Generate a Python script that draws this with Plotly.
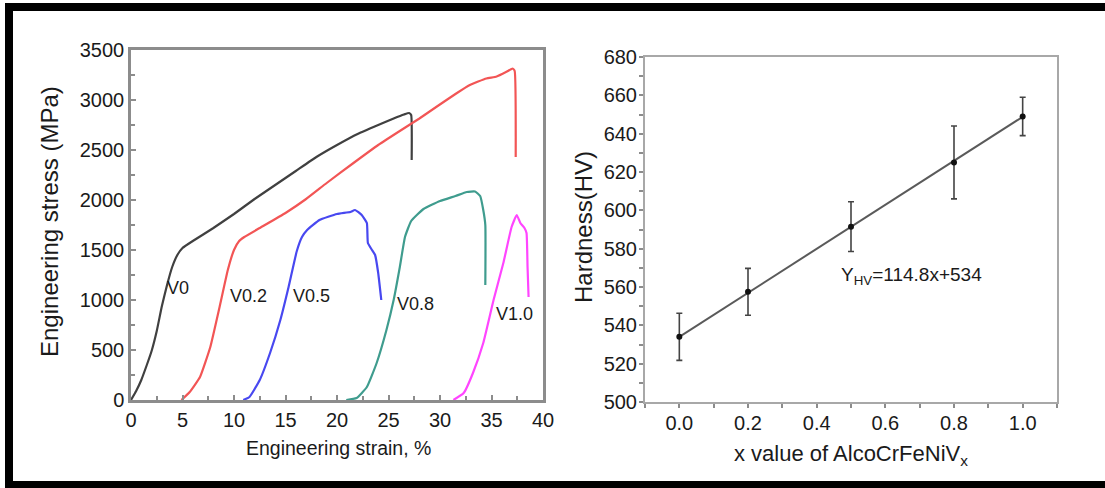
import plotly.graph_objects as go

# ---------------- Left panel: stress-strain curves ----------------
v0_strain = [0, 0.5, 1.0, 1.5, 2.0, 2.5, 3.0, 3.5, 4.0, 4.5, 5.0, 6.0, 8.0, 10.0, 12.0, 14.0, 16.0, 18.0, 20.0, 22.0, 24.0, 25.5, 26.5, 27.0, 27.2, 27.25]
v0_stress = [0, 90, 200, 340, 490, 690, 940, 1150, 1330, 1450, 1520, 1590, 1720, 1860, 2010, 2150, 2290, 2430, 2550, 2660, 2750, 2815, 2855, 2870, 2850, 2400]

v02_strain = [4.9, 5.7, 6.7, 7.7, 8.6, 9.4, 10.0, 10.5, 11.0, 12.5, 15.0, 17.0, 19.0, 21.6, 24.0, 26.4, 28.0, 29.7, 31.5, 32.9, 34.5, 35.5, 36.5, 37.05, 37.25, 37.35]
v02_stress = [0, 80, 230, 530, 930, 1300, 1500, 1590, 1630, 1720, 1870, 2010, 2170, 2370, 2550, 2710, 2815, 2935, 3060, 3150, 3215, 3235, 3285, 3315, 3290, 2430]

v05_strain = [10.9, 11.5, 12.5, 13.5, 14.5, 15.3, 16.1, 16.6, 17.1, 18.3, 20.0, 21.3, 21.75, 22.4, 22.9, 23.0, 23.4, 23.7, 24.0, 24.3]
v05_stress = [0, 30, 200, 470, 800, 1130, 1490, 1630, 1700, 1800, 1860, 1880, 1900, 1850, 1770, 1570, 1500, 1450, 1270, 1000]

v08_strain = [20.9, 21.9, 22.9, 23.85, 24.8, 25.5, 26.1, 26.6, 27.2, 28.4, 30.0, 31.5, 32.6, 33.4, 33.9, 34.2, 34.4, 34.4]
v08_stress = [0, 20, 130, 370, 700, 1000, 1330, 1630, 1790, 1910, 1990, 2040, 2080, 2085, 2040, 1900, 1750, 1150]

v10_strain = [31.3, 32.3, 33.2, 34.2, 35.2, 36.15, 36.95, 37.45, 37.8, 38.2, 38.4, 38.5, 38.6]
v10_stress = [0, 70, 270, 570, 1000, 1370, 1730, 1850, 1770, 1720, 1670, 1330, 1030]

curve_names = ["V0", "V0.2", "V0.5", "V0.8", "V1.0"]
curve_colors = ["#404040", "#f25555", "#4848f0", "#3f9c8e", "#ff45ff"]
label_x = [4.6, 11.4, 17.5, 27.6, 37.2]
label_y = [1117, 1040, 1040, 957, 857]

strain_ticks = [0, 5, 10, 15, 20, 25, 30, 35, 40]
stress_ticks = [0, 500, 1000, 1500, 2000, 2500, 3000, 3500]

# ---------------- Right panel: hardness ----------------
x_values = [0.0, 0.2, 0.5, 0.8, 1.0]
hardness = [534, 557.5, 591.5, 625, 649]
hardness_err = [12.3, 12.2, 13, 19, 10]
fit_slope = 114.8
fit_intercept = 534
fit_x = [0.0, 1.0]
hardness_ticks = [500, 520, 540, 560, 580, 600, 620, 640, 660, 680]

W, H = 1105, 488
FONT = "Arial, Liberation Sans, sans-serif"
TXT = "#1a1a1a"

fig = go.Figure()

all_x = [v0_strain, v02_strain, v05_strain, v08_strain, v10_strain]
all_y = [v0_stress, v02_stress, v05_stress, v08_stress, v10_stress]
for name, xs, ys, c in zip(curve_names, all_x, all_y, curve_colors):
    fig.add_trace(go.Scatter(x=xs, y=ys, mode="lines", name=name,
                             line=dict(color=c, width=2.2, shape="spline", smoothing=0.4),
                             xaxis="x", yaxis="y"))

fit_y = [fit_slope * v + fit_intercept for v in fit_x]
fig.add_trace(go.Scatter(x=fit_x, y=fit_y, mode="lines", line=dict(color="#5a5a5a", width=2),
                         xaxis="x2", yaxis="y2", name="fit"))
fig.add_trace(go.Scatter(x=x_values, y=hardness, mode="markers",
                         marker=dict(color="#111111", size=6),
                         error_y=dict(type="data", array=hardness_err, color="#444444",
                                      thickness=1.6, width=3),
                         xaxis="x2", yaxis="y2", name="Hardness"))

frame_l = dict(showline=True, mirror=True, linecolor="#8c8c8c", linewidth=2.5,
               showgrid=False, zeroline=False, ticks="inside", ticklen=5,
               tickcolor="#8c8c8c", tickwidth=1.5,
               tickfont=dict(family=FONT, size=20, color=TXT))
frame_r = dict(showline=True, mirror=True, linecolor="#a8a8a8", linewidth=2,
               showgrid=False, zeroline=False, ticks="outside", ticklen=4,
               tickcolor="#8c8c8c", tickwidth=1.5,
               tickfont=dict(family=FONT, size=20, color=TXT))

fig.update_layout(
    width=W, height=H, template="none", showlegend=False,
    margin=dict(l=0, r=0, t=0, b=0),
    paper_bgcolor="white", plot_bgcolor="white",
    font=dict(family=FONT, color=TXT),
    xaxis=dict(domain=[131 / W, 543 / W], range=[0, 40], anchor="y",
               tickvals=strain_ticks, ticklabelstandoff=0,
               minor=dict(dtick=2.5, tick0=0, ticks="inside", ticklen=4, tickcolor="#8c8c8c"),
               **frame_l),
    yaxis=dict(domain=[1 - 400 / H, 1 - 50 / H], range=[0, 3500], anchor="x",
               tickvals=stress_ticks,
               minor=dict(dtick=250, tick0=0, ticks="inside", ticklen=4, tickcolor="#8c8c8c"),
               **frame_l),
    xaxis2=dict(domain=[645 / W, 1057 / W], range=[-0.1, 1.1], anchor="y2",
                tick0=0, dtick=0.2, tickformat=".1f", ticklabelstandoff=-2,
                minor=dict(dtick=0.1, tick0=0, ticks="outside", ticklen=4, tickcolor="#8c8c8c"),
                **frame_r),
    yaxis2=dict(domain=[1 - 402 / H, 1 - 57 / H], range=[500, 680], anchor="x2",
                tickvals=hardness_ticks, ticklabelstandoff=-2,
                minor=dict(dtick=10, tick0=500, ticks="outside", ticklen=4, tickcolor="#8c8c8c"),
                **frame_r),
)

ann = []
for name, lx, ly in zip(curve_names, label_x, label_y):
    ann.append(dict(x=lx, y=ly, xref="x", yref="y", text=name, showarrow=False,
                    font=dict(family=FONT, size=18, color=TXT), xanchor="center", yanchor="middle"))
ann.append(dict(x=0.466, y=566, xref="x2", yref="y2", text="Y<sub>HV</sub>=114.8x+534",
                showarrow=False, font=dict(family=FONT, size=19, color=TXT),
                xanchor="left", yanchor="middle"))
ann.append(dict(x=49 / W, y=1 - 222 / H, xref="paper", yref="paper", text="Engineering stress (MPa)",
                textangle=-90, showarrow=False, xanchor="center", yanchor="middle",
                font=dict(family=FONT, size=24, color=TXT)))
ann.append(dict(x=338 / W, y=1 - 448 / H, xref="paper", yref="paper", text="Engineering strain, %",
                showarrow=False, xanchor="center", yanchor="middle",
                font=dict(family=FONT, size=19.5, color=TXT)))
ann.append(dict(x=583 / W, y=1 - 227 / H, xref="paper", yref="paper", text="Hardness(HV)",
                textangle=-90, showarrow=False, xanchor="center", yanchor="middle",
                font=dict(family=FONT, size=24, color=TXT)))
ann.append(dict(x=851 / W, y=1 - 455 / H, xref="paper", yref="paper",
                text="x value of AlcoCrFeNiV<sub>x</sub>",
                showarrow=False, xanchor="center", yanchor="middle",
                font=dict(family=FONT, size=22, color=TXT)))
fig.update_layout(annotations=ann)

# black picture border (top, left, bottom)
shapes = [
    dict(type="rect", xref="paper", yref="paper", x0=5 / W, x1=1, y0=1 - 11 / H, y1=1 - 3 / H,
         fillcolor="black", line=dict(width=0), layer="above"),
    dict(type="rect", xref="paper", yref="paper", x0=5 / W, x1=13 / W, y0=0, y1=1 - 3 / H,
         fillcolor="black", line=dict(width=0), layer="above"),
    dict(type="rect", xref="paper", yref="paper", x0=5 / W, x1=1, y0=0, y1=1 - 481 / H,
         fillcolor="black", line=dict(width=0), layer="above"),
]
fig.update_layout(shapes=shapes)

fig.write_html("out.html", config={"displayModeBar": False},
               post_script="document.body.style.margin='0px';document.body.style.overflow='hidden';")
